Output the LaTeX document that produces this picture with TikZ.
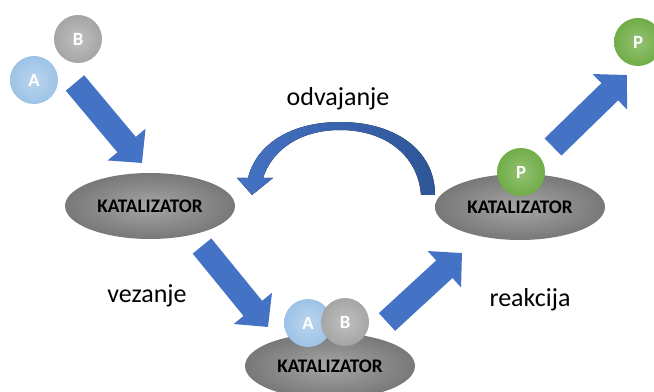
\documentclass[tikz,border=0pt]{standalone}
\usepackage{fontspec}
\setmainfont{Carlito}
\usetikzlibrary{shapes.geometric,arrows.meta}
\definecolor{strelica}{HTML}{4472C4}
\definecolor{tamnoplava}{HTML}{2F5597}
\definecolor{svijetloplava}{HTML}{9DC3E6}
\definecolor{siva}{HTML}{A5A5A5}
\definecolor{zelena}{HTML}{70AD47}
\definecolor{katsiva}{HTML}{969696}
\tikzset{
  katalizator/.style={ellipse,minimum width=127.5pt,minimum height=49.5pt,
    inner color=katsiva!85!white,outer color=katsiva!80!black,
    font=\bfseries\fontsize{14.4}{16}\selectfont},
  molekula/.style={circle,minimum size=36pt,inner sep=0pt,text=white,
    font=\bfseries\fontsize{14}{16}\selectfont},
  blokstrelica/.style={draw=strelica,line width=18pt,
    -{Triangle[length=0pt 1,width=0pt 2]}},
  oznaka/.style={font=\fontsize{19.5}{22}\selectfont},
}
\begin{document}
\begin{tikzpicture}[x=0.75pt,y=-0.75pt]
        \clip (0,0) rectangle (654,392);
        % odvajanje (zakrivljena strelica)
        \fill[left color=strelica,right color=tamnoplava]
            (435,195) .. controls (435,150) and (395,122) .. (340,122)
            .. controls (290,122) and (256,145) .. (248,178)
            -- (237,178) -- (252,195) -- (273,178) -- (263,178)
            .. controls (272,150) and (300,130) .. (340,130)
            .. controls (385,130) and (418,155) .. (421,195) -- cycle;
        % katalizatori
        \node[katalizator] (kat1) at (150,206) {KATALIZATOR};
        \node[katalizator] (kat2) at (330,366) {KATALIZATOR};
        \node[katalizator] (kat3) at (520,207) {KATALIZATOR};
        % krajevi strelica
        \coordinate (s1) at (75,83);    \coordinate (v1) at (142,163);
        \coordinate (s2) at (202,246);  \coordinate (v2) at (268,327);
        \coordinate (s3) at (387,322);  \coordinate (v3) at (462,253);
        \coordinate (s4) at (553,147);  \coordinate (v4) at (627,75);
        \draw[blokstrelica] (s1) -- (v1);
        \draw[blokstrelica] (s2) -- (v2);
        \draw[blokstrelica] (s3) -- (v3);
        \draw[blokstrelica] (s4) -- (v4);
        % molekule
        \node[molekula,inner color=siva!70!white,outer color=siva] (b1) at (78,39) {B};
        \node[molekula,inner color=svijetloplava!70!white,outer color=svijetloplava] (a1) at (34,80) {A};
        \node[molekula,inner color=svijetloplava!70!white,outer color=svijetloplava] (a2) at (308,323) {A};
        \node[molekula,inner color=siva!70!white,outer color=siva] (b2) at (345,322) {B};
        \node[molekula,inner color=zelena!75!white,outer color=zelena] (p1) at (521,172) {P};
        \node[molekula,inner color=zelena!75!white,outer color=zelena] (p2) at (638,42) {P};
        % oznake
        \node[oznaka] (odvajanje) at (338,99) {odvajanje};
        \node[oznaka] (vezanje) at (147,296) {vezanje};
        \node[oznaka] (reakcija) at (530,300) {reakcija};
\end{tikzpicture}
\end{document}
